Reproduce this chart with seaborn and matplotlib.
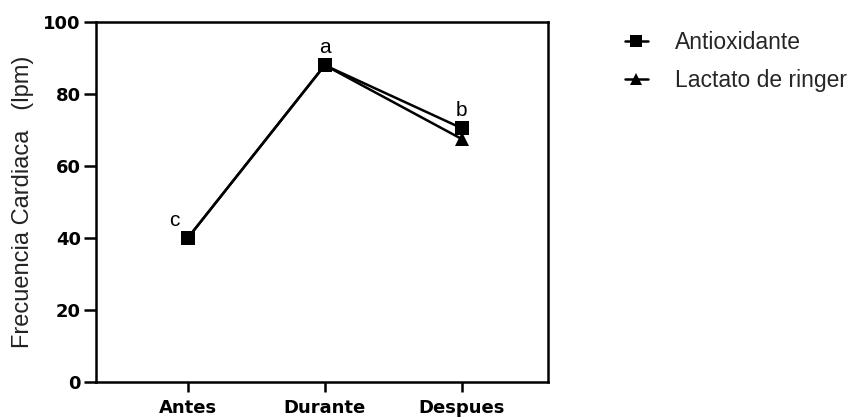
import matplotlib
matplotlib.use("Agg")
import matplotlib.pyplot as plt
import seaborn as sns
import pandas as pd

sns.set_theme(style="ticks")
plt.rcParams["font.family"] = ["Liberation Sans", "DejaVu Sans"]

momentos = ["Antes", "Durante", "Despues"]
antioxidante = [40, 88, 70.5]
lactato = [40, 88, 67.5]
letras = ["c", "a", "b"]

df_anti = pd.DataFrame({"momento": momentos, "fc": antioxidante})
df_lact = pd.DataFrame({"momento": momentos, "fc": lactato})

fig = plt.figure(figsize=(8.66, 4.19), dpi=100)
ax = fig.add_axes([0.1109, 0.0883, 0.5219, 0.8592])

sns.lineplot(data=df_lact, x="momento", y="fc", ax=ax, color="black",
             marker="^", markersize=10, linewidth=1.8, markeredgewidth=0,
             label="Lactato de ringer")
sns.lineplot(data=df_anti, x="momento", y="fc", ax=ax, color="black",
             marker="s", markersize=10, linewidth=1.8, markeredgewidth=0,
             label="Antioxidante")

# significance letters above the highest point of each moment
for i, l in enumerate(letras):
    top = max(antioxidante[i], lactato[i])
    dx = -0.095 if i == 0 else 0
    ax.text(i + dx, top + 3.3, l, ha="center", va="baseline", fontsize=15,
            color="black")

ax.set_xlim(-0.67, 2.63)
ax.set_ylim(0, 100)
ax.set_yticks([0, 20, 40, 60, 80, 100])
ax.set_xlabel("")
ax.set_ylabel("Frecuencia Cardiaca   (lpm)", fontsize=17, color="#222222",
              labelpad=7)
for s in ax.spines.values():
    s.set_linewidth(1.8)
    s.set_color("black")
ax.tick_params(axis="both", direction="out", width=1.8,
               color="black", labelcolor="black")
ax.tick_params(axis="y", length=9, pad=2)
ax.tick_params(axis="x", length=7, pad=5)
for t in ax.get_xticklabels() + ax.get_yticklabels():
    t.set_fontfamily("DejaVu Sans")
    t.set_fontweight("bold")
    t.set_fontsize(13)

handles, labels = ax.get_legend_handles_labels()
ax.get_legend().remove()
fig.legend(handles[::-1], labels[::-1], loc="upper left",
           bbox_to_anchor=(0.7217, 0.925), frameon=False, fontsize=16.5,
           handlelength=1.0, labelspacing=0.62, handletextpad=1.2,
           borderpad=0, borderaxespad=0, markerscale=0.9)

fig.savefig("out.png", dpi=100)
